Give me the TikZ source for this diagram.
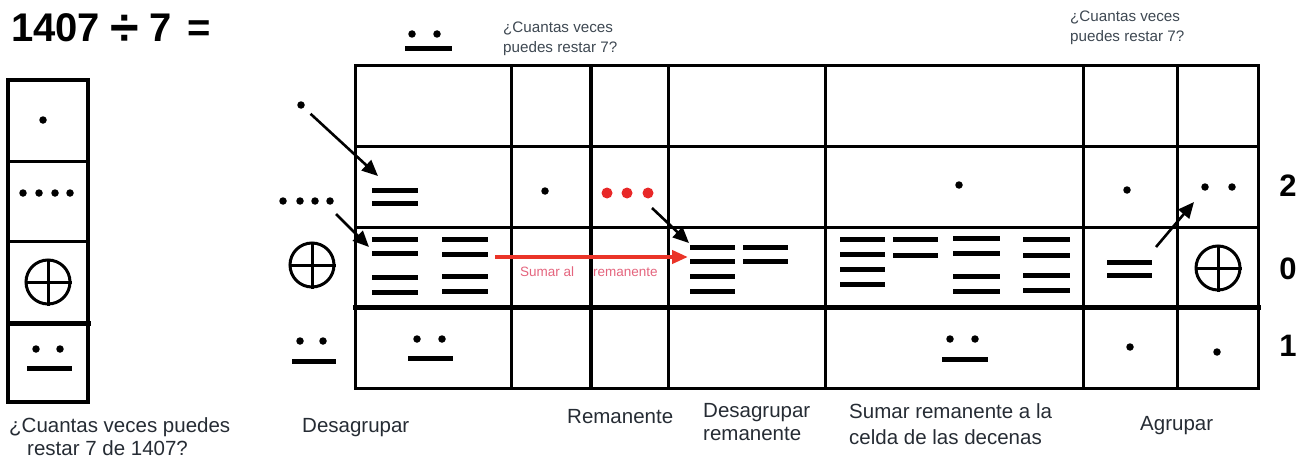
\documentclass[tikz,border=0pt]{standalone}
\usepackage{fontspec}
\setmainfont{Liberation Sans}
\usetikzlibrary{arrows.meta}
\definecolor{labcol}{RGB}{38,44,52}
\definecolor{smallcol}{RGB}{62,72,82}
\definecolor{arrred}{RGB}{234,52,40}
\definecolor{pinktxt}{RGB}{228,100,125}
\definecolor{dotred}{RGB}{232,40,40}
\begin{document}
\begin{tikzpicture}[x=1pt,y=-1pt,
 gridline/.style={line width=3pt, line cap=rect},
 boldline/.style={line width=5pt, line cap=rect},
 bar/.style={line width=5pt},
 mdot/.style={circle, fill=black, inner sep=0pt, minimum size=7.5pt},
 rdot/.style={circle, fill=dotred, inner sep=0pt, minimum size=11pt},
 arr/.style={line width=2.6pt, -{Triangle[length=16pt,width=14pt]}},
 redarr/.style={line width=4pt, arrred, -{Triangle[length=16pt,width=13pt]}},
 lab/.style={inner sep=0pt, anchor=base west, text=labcol, font=\fontsize{20.5}{24}\selectfont},
 small/.style={inner sep=0pt, anchor=base west, text=smallcol, font=\fontsize{15.2}{18}\selectfont},
 pinklab/.style={inner sep=0pt, anchor=base west, text=pinktxt, font=\fontsize{13.5}{16}\selectfont},
 big/.style={inner sep=0pt, anchor=base west, font=\fontsize{40}{44}\selectfont\bfseries},
 num/.style={inner sep=0pt, anchor=base, font=\fontsize{31}{34}\selectfont\bfseries},
 zerocirc/.style={circle, draw, line width=3pt, minimum size=44pt, inner sep=0pt},
]
\useasboundingbox (0,0) rectangle (1307,460);

% ---------- title ----------
\node[big] (title) at (11,42) {1407\hspace{10pt}\raisebox{-4pt}{\fontsize{52}{52}\selectfont ÷}\hspace{11pt}7\hspace{16pt}=};

% ---------- left column ----------
\draw[gridline, line width=3.5pt] (8,80) rectangle (88,402);
\draw[gridline] (8,161) -- (88,161);
\draw[gridline] (8,241) -- (88,241);
\draw[boldline] (8,323) -- (88,323);
\node[mdot] (l1) at (43,120) {};
\foreach \x [count=\i] in {23,39,55,70} \node[mdot] (l2\i) at (\x,193) {};
\node[zerocirc] (lz) at (48,282) {};
\draw[line width=3pt] (lz.north) -- (lz.south) (lz.west) -- (lz.east);
\node[mdot] (l4a) at (36,349) {};
\node[mdot] (l4b) at (60,349) {};
\draw[bar] (27,368) -- (72,368);
\node[lab] (q1) at (9,432) {¿Cuantas veces puedes};
\node[lab] (q2) at (27,455) {restar 7 de 1407?};

% ---------- main grid ----------
\draw[gridline] (355,66) rectangle (1258,388);
\draw[gridline] (355,146) -- (1258,146);
\draw[gridline] (355,227) -- (1258,227);
\draw[boldline] (355,307) -- (1258,307);
\foreach \x in {511,668,825,1083,1177} \draw[gridline] (\x,66) -- (\x,388);
\draw[gridline, line width=4.5pt] (591,66) -- (591,388);

% above grid (7)
\node[mdot] (t1) at (412,34) {};
\node[mdot] (t2) at (437,34) {};
\draw[bar] (405,49) -- (452,49);

% small questions
\node[small] (sq1) at (503,33) {¿Cuantas veces};
\node[small] (sq2) at (503,53) {puedes restar 7?};
\node[small] (sq3) at (1070,22) {¿Cuantas veces};
\node[small] (sq4) at (1070,42) {puedes restar 7?};

% outside left digits
\node[mdot] (o1) at (301,105) {};
\coordinate (a1e) at (378,176);
\draw[arr, shorten <=9pt] (o1) -- (a1e);
\foreach \x [count=\i] in {283,300,315,330} \node[mdot] (o2\i) at (\x,201) {};
\coordinate (a2s) at (336,214);
\coordinate (a2e) at (369,247);
\draw[arr] (a2s) -- (a2e);
\node[zerocirc] (oz) at (312,265) {};
\draw[line width=3pt] (oz.north) -- (oz.south) (oz.west) -- (oz.east);
\node[mdot] (o4a) at (300,341) {};
\node[mdot] (o4b) at (323,341) {};
\draw[bar] (292,361) -- (336,361);

% column 1
\draw[bar] (372,190) -- (418,190);
\draw[bar] (372,203) -- (418,203);
\foreach \y in {239,253,277,292} \draw[bar] (372,\y) -- (418,\y);
\foreach \y in {239,254,276,291} \draw[bar] (442,\y) -- (488,\y);
\node[mdot] (c14a) at (417,339) {};
\node[mdot] (c14b) at (442,339) {};
\draw[bar] (408,358) -- (453,358);

% column 2 and 3
\node[mdot] (c22) at (545,191) {};
\node[rdot] (r1) at (607,193) {};
\node[rdot] (r2) at (627,193) {};
\node[rdot] (r3) at (648,193) {};
\coordinate (a3s) at (652,208);
\coordinate (a3e) at (689,243);
\draw[arr] (a3s) -- (a3e);

% red arrow
\coordinate (ras) at (495,257);
\coordinate (rae) at (688,257);
\draw[redarr] (ras) -- (rae);
\node[pinklab] (pl1) at (520,276) {Sumar al};
\node[pinklab] (pl2) at (593,276) {remanente};

% column 4
\foreach \y in {247,261,276,291} \draw[bar] (690,\y) -- (735,\y);
\foreach \y in {247,261} \draw[bar] (743,\y) -- (788,\y);

% column 5
\node[mdot] (c52) at (959,185) {};
\foreach \y in {239,254,269,284} \draw[bar] (840,\y) -- (885,\y);
\foreach \y in {239,255} \draw[bar] (893,\y) -- (938,\y);
\foreach \y in {238,253,276,291} \draw[bar] (953,\y) -- (1000,\y);
\foreach \y in {239,255,275,290} \draw[bar] (1023,\y) -- (1070,\y);
\node[mdot] (c54a) at (950,339) {};
\node[mdot] (c54b) at (975,339) {};
\draw[bar] (942,359) -- (988,359);

% column 6 and 7
\node[mdot] (c62) at (1127,190) {};
\node[mdot] (c72a) at (1205,187) {};
\node[mdot] (c72b) at (1232,187) {};
\draw[bar] (1107,262) -- (1152,262);
\draw[bar] (1107,275) -- (1152,275);
\coordinate (a4s) at (1156,247);
\coordinate (a4e) at (1194,202);
\draw[arr] (a4s) -- (a4e);
\node[zerocirc] (rz) at (1218,268) {};
\draw[line width=3pt] (rz.north) -- (rz.south) (rz.west) -- (rz.east);
\node[mdot] (c64) at (1130,347) {};
\node[mdot] (c74) at (1217,352) {};

% right numbers
\node[num] (n2) at (1288,196) {2};
\node[num] (n0) at (1288,279) {0};
\node[num] (n1) at (1288,356) {1};

% bottom labels
\node[lab] (b1) at (302,432) {Desagrupar};
\node[lab] (b2) at (567,423) {Remanente};
\node[lab] (b3a) at (703,417) {Desagrupar};
\node[lab] (b3b) at (703,440) {remanente};
\node[lab] (b4a) at (849,418) {Sumar remanente a la};
\node[lab] (b4b) at (849,444) {celda de las decenas};
\node[lab] (b5) at (1140,430) {Agrupar};
\end{tikzpicture}
\end{document}
